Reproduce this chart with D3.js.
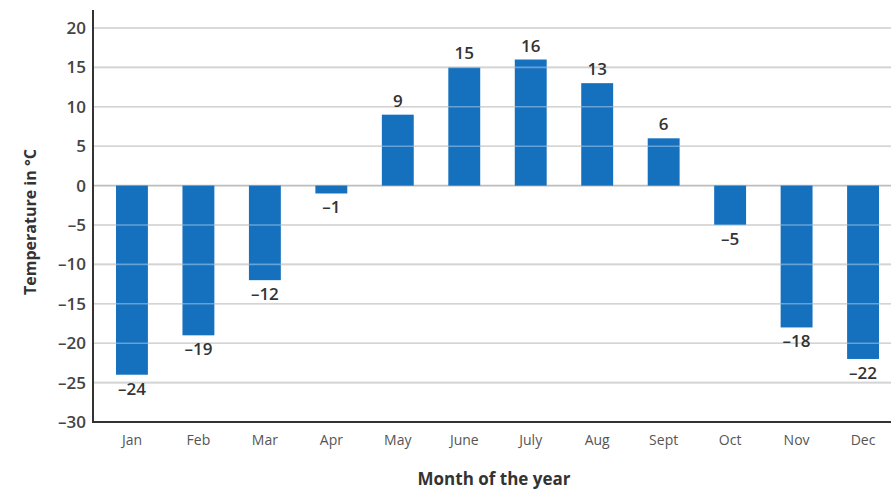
<!DOCTYPE html>
<html><head><meta charset="utf-8">
<script src="https://cdn.jsdelivr.net/npm/d3@7"></script>
<style>
html,body{margin:0;padding:0;background:#fff;}
svg{display:block;font-family:"Open Sans","Noto Sans",sans-serif;}
</style></head>
<body><svg id="c" width="891" height="491"></svg>
<script>
const months = ["Jan","Feb","Mar","Apr","May","June","July","Aug","Sept","Oct","Nov","Dec"];
const temps = [-24,-19,-12,-1,9,15,16,13,6,-5,-18,-22];
const yTicks = [20,15,10,5,0,-5,-10,-15,-20,-25,-30];
const yTitle = "Temperature in °C";
const xTitle = "Month of the year";

(function () {
const svg = d3.select("#c");
const mLeft = 93, mRight = 902, mTop = 28, mBottom = 422;
const x = d3.scaleBand().domain(months).range([mLeft, mRight]).paddingInner(0.52).paddingOuter(0.346);
const y = d3.scaleLinear().domain([-30, 20]).range([mBottom, mTop]);
const fmt = v => v < 0 ? "\u2013" + Math.abs(v) : String(v);

// gridlines behind
svg.append("g").selectAll("line").data(yTicks.filter(t => t > -30)).join("line")
  .attr("x1", mLeft).attr("x2", 891).attr("y1", d => y(d)).attr("y2", d => y(d))
  .attr("stroke", "#bdbdbd").attr("stroke-width", 1.6);

// bars
svg.append("g").selectAll("rect").data(temps).join("rect")
  .attr("x", (d, i) => x(months[i]))
  .attr("width", x.bandwidth())
  .attr("y", d => y(Math.max(0, d)))
  .attr("height", d => Math.abs(y(d) - y(0)))
  .attr("fill", "#1570be");

// gridlines over bars (light)
svg.append("g").selectAll("line").data(yTicks.filter(t => t > -30 && t !== 0)).join("line")
  .attr("x1", mLeft).attr("x2", 891).attr("y1", d => y(d)).attr("y2", d => y(d))
  .attr("stroke", "#ffffff").attr("stroke-opacity", 0.35).attr("stroke-width", 1.6);

// value labels
svg.append("g").selectAll("text").data(temps).join("text")
  .attr("x", (d, i) => x(months[i]) + x.bandwidth() / 2)
  .attr("y", d => d >= 0 ? y(d) - 8 : y(d) + 20)
  .attr("text-anchor", "middle")
  .attr("font-size", 17).attr("font-weight", 600).attr("fill", "#333")
  .text(d => fmt(d));

// y axis
const yAxis = d3.axisLeft(y).tickValues(yTicks).tickSize(0).tickPadding(7).tickFormat(fmt);
const gy = svg.append("g").attr("transform", `translate(${mLeft},0)`).call(yAxis);
gy.select(".domain").remove();
gy.selectAll(".tick text").attr("font-size", 17).attr("font-weight", 600).attr("fill", "#444")
  .attr("font-family", "'Open Sans','Noto Sans',sans-serif");
svg.append("line").attr("x1", mLeft).attr("x2", mLeft).attr("y1", mTop - 18).attr("y2", mBottom)
  .attr("stroke", "#333").attr("stroke-width", 2);

// x axis
const xAxis = d3.axisBottom(x).tickSize(0).tickPadding(13);
const gx = svg.append("g").attr("transform", `translate(0,${mBottom})`).call(xAxis);
gx.select(".domain").remove();
gx.selectAll(".tick text").attr("font-size", 14).attr("font-weight", 500).attr("fill", "#555")
  .attr("font-family", "'Open Sans','Noto Sans',sans-serif");
svg.append("line").attr("x1", mLeft - 1).attr("x2", 891).attr("y1", mBottom).attr("y2", mBottom)
  .attr("stroke", "#333").attr("stroke-width", 2);

// titles
svg.append("text").attr("x", 494).attr("y", 485).attr("text-anchor", "middle")
  .attr("font-size", 17).attr("font-weight", 700).attr("fill", "#333").text(xTitle);
svg.append("text").attr("transform", "translate(36,222) rotate(-90)").attr("text-anchor", "middle")
  .attr("font-size", 16).attr("font-weight", 700).attr("fill", "#333").text(yTitle);
})();
</script></body></html>
